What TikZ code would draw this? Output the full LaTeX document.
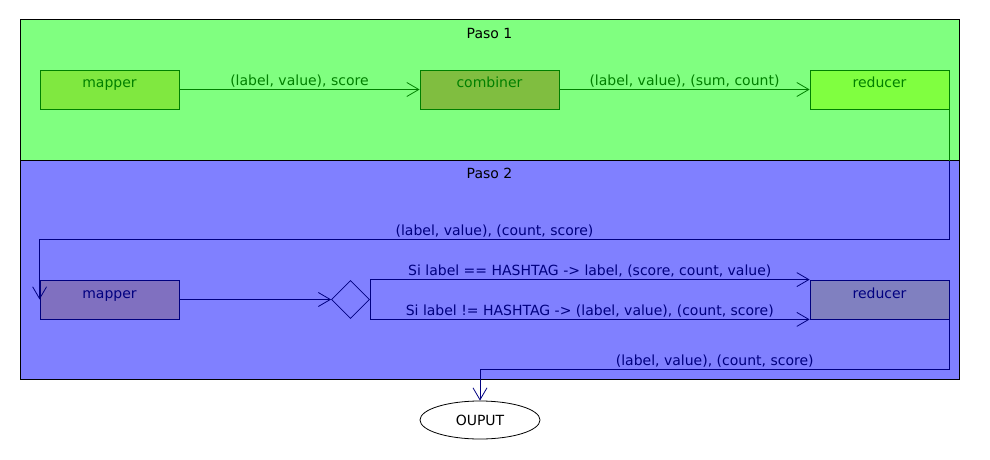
\documentclass[tikz,border=0pt]{standalone}
\usepackage{fontspec}
\setmainfont{DejaVu Sans}
\usetikzlibrary{arrows.meta,shapes.geometric}

\definecolor{fondoUno}{HTML}{80FF80}
\definecolor{fondoDos}{HTML}{8080FF}
\definecolor{lineaUno}{HTML}{008000}
\definecolor{lineaDos}{HTML}{000080}

\begin{document}
\begin{tikzpicture}[
        x=1pt, y=-1pt,
        font=\fontsize{14}{16}\selectfont,
        panel/.style={
            rectangle, draw=black, line width=1pt,
            minimum width=939pt, inner sep=0pt,
            text height=18pt
        },
        caja/.style={
            rectangle, line width=0.8pt, inner sep=0pt,
            minimum width=139pt, minimum height=39pt,
            text height=18pt, text depth=21pt
        },
        flujo/.style={
            line width=0.8pt,
            -{Straight Barb[length=12pt,width=14pt,line width=0.8pt]}
        },
        etiqueta/.style={anchor=south, inner sep=4pt, text depth=0pt}
    ]
        \useasboundingbox (0,0) rectangle (990,460);

        % Paso 1
        \node[panel, fill=fondoUno, minimum height=140pt, text depth=122pt]
            (paso1) at (489.5,90) {Paso 1};

        % Paso 2
        \node[panel, fill=fondoDos, minimum height=219pt, text depth=201pt]
            (paso2) at (489.5,269.5) {Paso 2};

        % Nodos del paso 1
        \node[caja, draw=lineaUno, text=lineaUno, fill={rgb,255:red,128;green,232;blue,64}]
            (map1) at (109.5,89.5) {mapper};
        \node[caja, draw=lineaUno, text=lineaUno, fill={rgb,255:red,128;green,190;blue,64}]
            (comb) at (489.5,89.5) {combiner};
        \node[caja, draw=lineaUno, text=lineaUno, fill={rgb,255:red,128;green,255;blue,64}]
            (red1) at (879.5,89.5) {reducer};

        % Nodos del paso 2
        \node[caja, draw=lineaDos, text=lineaDos, fill={rgb,255:red,128;green,112;blue,192}]
            (map2) at (109.5,299.5) {mapper};
        \node[diamond, draw=lineaDos, line width=0.8pt, inner sep=0pt,
              minimum width=38pt, minimum height=38pt]
            (dec) at (350.5,299.5) {};
        \node[caja, draw=lineaDos, text=lineaDos, fill={rgb,255:red,128;green,128;blue,192}]
            (red2) at (879.5,299.5) {reducer};

        % Salida
        \node[ellipse, draw=black, fill=white, line width=0.8pt, inner sep=0pt,
              minimum width=120pt, minimum height=38pt]
            (out) at (480,420) {OUPUT};

        % Relaciones del paso 1
        \draw[flujo, lineaUno] (map1) -- (comb)
            node[midway, etiqueta, text=lineaUno] {(label, value), score};
        \draw[flujo, lineaUno] (comb) -- (red1)
            node[midway, etiqueta, text=lineaUno] {(label, value), (sum, count)};

        % Relaciones del paso 2
        \draw[flujo, lineaDos] (red1.east) -- ++(0,150) -| (map2.west)
            node[pos=0.25, etiqueta, text=lineaDos] {(label, value), (count, score)};
        \draw[lineaUno, line width=0.8pt] (red1.east) -- (red1.east |- paso1.south);
        \draw[flujo, lineaDos] (map2) -- (dec);
        \draw[flujo, lineaDos] (dec.east) |- (red2.north west)
            node[pos=0.75, etiqueta, text=lineaDos] {Si label == HASHTAG -> label, (score, count, value)};
        \draw[flujo, lineaDos] (dec.east) |- (red2.south west)
            node[pos=0.75, etiqueta, text=lineaDos] {Si label != HASHTAG -> (label, value), (count, score)};
        \draw[flujo, lineaDos] (red2.east) -- ++(0,70) -| (out.north)
            node[pos=0.25, etiqueta, text=lineaDos] {(label, value), (count, score)};

    \end{tikzpicture}
\end{document}
